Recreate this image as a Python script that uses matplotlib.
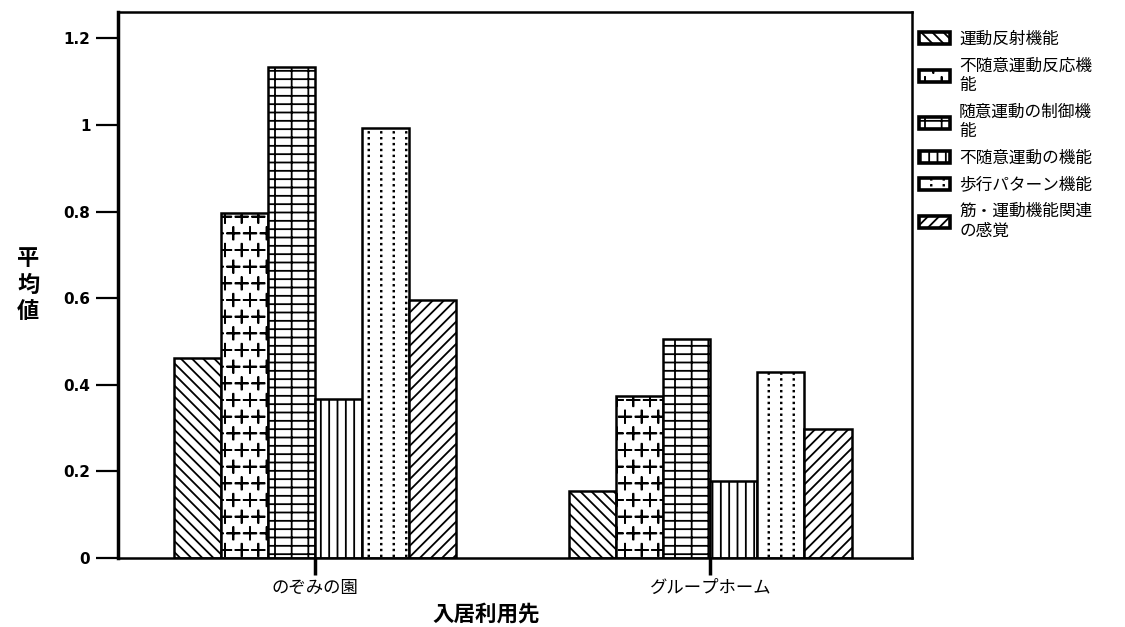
import numpy as np
import matplotlib
matplotlib.use("Agg")
import matplotlib.pyplot as plt
from matplotlib import hatch as mhatch
from matplotlib.path import Path

plt.rcParams['font.family'] = ['Noto Sans CJK JP', 'DejaVu Sans']
plt.rcParams['hatch.linewidth'] = 1.3

# data
groups = ['のぞみの園', 'グループホーム']
series = ['運動反射機能', '不随意運動反応機\n能', '随意運動の制御機\n能',
          '不随意運動の機能', '歩行パターン機能', '筋・運動機能関連\nの感覚']
nozomi = [0.462, 0.797, 1.134, 0.367, 0.993, 0.596]
group_home = [0.155, 0.374, 0.506, 0.178, 0.430, 0.298]
hatches = ['\\\\\\', 'o', '--|', '||', '*', '///']


# staggered plus-sign hatch (takes the place of the small circles 'o')
class Pluses(mhatch.Shapes):
    size = 0.75
    filled = False

    def __init__(self, hatch, density):
        self.num_rows = hatch.count('o') * density
        self.shape_vertices = np.array([[-0.5, 0], [0.5, 0], [0, -0.5], [0, 0.5]])
        self.shape_codes = np.array([Path.MOVETO, Path.LINETO,
                                     Path.MOVETO, Path.LINETO], dtype=Path.code_type)
        super().__init__(hatch, density)


# columns of small dots (takes the place of the stars '*')
class DotColumns(mhatch.HatchPatternBase):
    def __init__(self, hatch, density):
        n = hatch.count('*')
        self.ncols = 8 * n
        self.nrows = 17 * n
        self.num_vertices = self.ncols * self.nrows * 5

    def set_vertices_and_codes(self, vertices, codes):
        d = 0.003
        sq = np.array([[-d, -d], [d, -d], [d, d], [-d, d], [-d, -d]])
        k = 0
        for i in range(self.ncols):
            for j in range(self.nrows):
                c = np.array([(i + 0.5) / self.ncols, (j + 0.5) / self.nrows])
                vertices[k:k + 5] = sq + c
                codes[k:k + 5] = [Path.MOVETO, Path.LINETO, Path.LINETO,
                                  Path.LINETO, Path.CLOSEPOLY]
                k += 5


mhatch._hatch_types = [h for h in mhatch._hatch_types
                       if h not in (mhatch.SmallCircles, mhatch.Stars)]
mhatch._hatch_types += [Pluses, DotColumns]

fig = plt.figure(figsize=(11.25, 6.27), dpi=100)
ax = fig.add_axes([0.105, 0.110, 0.706, 0.871])

x = np.arange(len(groups))
w = 0.119
handles = []
for i, name in enumerate(series):
    vals = [nozomi[i], group_home[i]]
    b = ax.bar(x + (i - 2.5) * w, vals, w, facecolor='white', edgecolor='black',
               linewidth=1.8, hatch=hatches[i], label=name)
    handles.append(b)

ax.set_xlim(-0.499, 1.511)
ax.set_ylim(0, 1.261)
ax.set_yticks([0, 0.2, 0.4, 0.6, 0.8, 1.0, 1.2])
ax.set_yticklabels(['0', '0.2', '0.4', '0.6', '0.8', '1', '1.2'],
                   family='DejaVu Sans', fontweight='bold', fontsize=11)
ax.set_xticks(x)
ax.set_xticklabels(groups, fontsize=12.5)
ax.tick_params(axis='y', length=16, width=1.6, pad=4)
ax.tick_params(axis='x', length=12, width=2.5, pad=3)
ax.spines['left'].set_linewidth(2.5)
for s in ['top', 'right', 'bottom']:
    ax.spines[s].set_linewidth(1.8)

fig.text(0.025, 0.545, '平\n均\n値', fontsize=16, fontweight='bold',
         ha='center', va='center', linespacing=1.2)
fig.text(0.432, 0.021, '入居利用先', fontsize=15.5, fontweight='bold',
         ha='center', va='center')

leg = fig.legend(handles=handles, loc='upper left', bbox_to_anchor=(0.817, 0.951),
                 frameon=False, fontsize=12, handlelength=1.85, handleheight=0.72,
                 labelspacing=0.58, handletextpad=0.55, borderaxespad=0,
                 borderpad=0)
for p in leg.get_patches():
    p.set_linewidth(2.6)

fig.savefig('out.png', dpi=100)
